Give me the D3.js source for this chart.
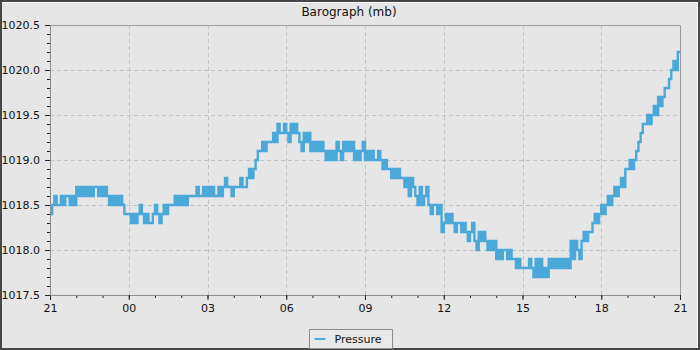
<!DOCTYPE html>
<html>
<head>
<meta charset="utf-8">
<script src="https://cdn.jsdelivr.net/npm/d3@7"></script>
<style>
  body { margin: 0; }
  svg { display: block; font-family: "DejaVu Sans", sans-serif; }
</style>
</head>
<body>
<div id="chart"></div>
<script>
const chartTitle = 'Barograph (mb)';
const seriesName = 'Pressure';
const startTime = new Date('2000-01-01T21:00:00Z');
const endTime = new Date('2000-01-02T21:00:00Z');
const sampleMinutes = 5;
const yDomain = [1017.5, 1020.5];

// one reading every 5 minutes, one row per hour starting 21:00
const pressure = [
    1018.4, 1018.5, 1018.6, 1018.5, 1018.5, 1018.6, 1018.5, 1018.6, 1018.6, 1018.5, 1018.6, 1018.5,
    1018.7, 1018.6, 1018.7, 1018.6, 1018.7, 1018.6, 1018.7, 1018.6, 1018.7, 1018.7, 1018.6, 1018.7,
    1018.6, 1018.7, 1018.6, 1018.5, 1018.6, 1018.5, 1018.6, 1018.5, 1018.6, 1018.5, 1018.4, 1018.4,
    1018.4, 1018.3, 1018.4, 1018.3, 1018.4, 1018.5, 1018.4, 1018.3, 1018.4, 1018.3, 1018.3, 1018.4,
    1018.5, 1018.4, 1018.3, 1018.4, 1018.5, 1018.4, 1018.5, 1018.5, 1018.5, 1018.6, 1018.5, 1018.6,
    1018.5, 1018.6, 1018.5, 1018.6, 1018.6, 1018.6, 1018.6, 1018.7, 1018.6, 1018.6, 1018.7, 1018.6,
    1018.7, 1018.6, 1018.7, 1018.6, 1018.6, 1018.7, 1018.6, 1018.7, 1018.8, 1018.7, 1018.7, 1018.6,
    1018.7, 1018.7, 1018.7, 1018.8, 1018.7, 1018.7, 1018.8, 1018.9, 1018.8, 1018.9, 1019.0, 1019.1,
    1019.1, 1019.2, 1019.1, 1019.2, 1019.2, 1019.2, 1019.3, 1019.2, 1019.4, 1019.3, 1019.3, 1019.4,
    1019.3, 1019.2, 1019.4, 1019.3, 1019.4, 1019.3, 1019.2, 1019.1, 1019.3, 1019.2, 1019.3, 1019.1,
    1019.2, 1019.1, 1019.2, 1019.1, 1019.2, 1019.1, 1019.0, 1019.1, 1019.0, 1019.1, 1019.0, 1019.2,
    1019.1, 1019.0, 1019.2, 1019.1, 1019.2, 1019.1, 1019.2, 1019.0, 1019.1, 1019.0, 1019.1, 1019.2,
    1019.0, 1019.1, 1019.0, 1019.1, 1019.0, 1019.0, 1019.1, 1019.0, 1018.9, 1019.0, 1018.9, 1018.9,
    1018.8, 1018.9, 1018.8, 1018.9, 1018.8, 1018.8, 1018.7, 1018.8, 1018.6, 1018.8, 1018.7, 1018.6,
    1018.5, 1018.7, 1018.5, 1018.6, 1018.7, 1018.5, 1018.4, 1018.5, 1018.5, 1018.4, 1018.5, 1018.2,
    1018.3, 1018.4, 1018.3, 1018.4, 1018.3, 1018.2, 1018.3, 1018.3, 1018.2, 1018.3, 1018.2, 1018.1,
    1018.2, 1018.3, 1018.1, 1018.0, 1018.2, 1018.1, 1018.2, 1018.1, 1018.0, 1018.1, 1018.0, 1018.1,
    1017.9, 1018.0, 1017.9, 1018.0, 1018.0, 1017.9, 1018.0, 1017.9, 1017.9, 1017.8, 1017.9, 1017.8,
    1017.8, 1017.8, 1017.8, 1017.9, 1017.8, 1017.7, 1017.9, 1017.7, 1017.9, 1017.7, 1017.8, 1017.7,
    1017.9, 1017.8, 1017.9, 1017.8, 1017.9, 1017.8, 1017.9, 1017.8, 1017.9, 1017.8, 1018.1, 1017.9,
    1018.1, 1018.0, 1017.9, 1018.1, 1018.2, 1018.1, 1018.2, 1018.2, 1018.3, 1018.4, 1018.3, 1018.4,
    1018.5, 1018.4, 1018.5, 1018.6, 1018.5, 1018.6, 1018.7, 1018.6, 1018.7, 1018.8, 1018.7, 1018.9,
    1018.9, 1019.0, 1018.9, 1019.0, 1019.1, 1019.2, 1019.3, 1019.4, 1019.4, 1019.5, 1019.4, 1019.5,
    1019.6, 1019.5, 1019.7, 1019.6, 1019.7, 1019.8, 1019.8, 1019.9, 1020.0, 1020.1, 1020.0, 1020.2,
    1020.2
];

const width = 700, height = 350;
const margin = { top: 25, right: 20, bottom: 55, left: 50 };
const lineColor = '#4aa9d9';

const svg = d3.select('#chart').append('svg')
    .attr('width', width)
    .attr('height', height);

// frame
svg.append('rect').attr('width', width).attr('height', height).attr('fill', '#474747');
svg.append('rect').attr('x', 2).attr('y', 2).attr('width', width - 4).attr('height', height - 4).attr('fill', '#ffffff');
svg.append('rect').attr('x', 2).attr('y', 3).attr('width', width - 5).attr('height', height - 5).attr('fill', '#e6e6e6');

const x = d3.scaleUtc()
    .domain([startTime, endTime])
    .range([margin.left, width - margin.right]);

const y = d3.scaleLinear()
    .domain(yDomain)
    .range([height - margin.bottom, margin.top]);

const data = pressure.map((v, i) => ({
    time: d3.utcMinute.offset(startTime, i * sampleMinutes),
    value: v
}));

const majorX = x.ticks(d3.utcHour.every(3));
const minorX = x.ticks(d3.utcHour.every(1));
const majorY = y.ticks(6);
const minorY = y.ticks(30);

// grid
const grid = svg.append('g')
    .attr('stroke', '#c2c2c2')
    .attr('stroke-width', 1)
    .attr('stroke-dasharray', '4,3');

grid.selectAll('.gx')
    .data(majorX.slice(1, -1))
    .enter().append('line')
    .attr('x1', d => Math.round(x(d)) + 0.5)
    .attr('x2', d => Math.round(x(d)) + 0.5)
    .attr('y1', margin.top)
    .attr('y2', height - margin.bottom);

grid.selectAll('.gy')
    .data(majorY.slice(1, -1))
    .enter().append('line')
    .attr('x1', margin.left)
    .attr('x2', width - margin.right)
    .attr('y1', d => Math.round(y(d)) + 0.5)
    .attr('y2', d => Math.round(y(d)) + 0.5);

// plot border top / right
svg.append('path')
    .attr('d', `M${margin.left},${margin.top + 0.5}H${width - margin.right + 0.5}V${height - margin.bottom}`)
    .attr('fill', 'none')
    .attr('stroke', '#999');

// series
const line = d3.line()
    .x(d => x(d.time))
    .y(d => y(d.value))
    .curve(d3.curveStepAfter);

svg.append('path')
    .datum(data)
    .attr('fill', 'none')
    .attr('stroke', lineColor)
    .attr('stroke-width', 2.4)
    .attr('d', line);

// axes
function styleAxis(g) {
    g.select('.domain').attr('stroke', '#8c8c8c');
    g.selectAll('.tick line').attr('stroke', '#222');
    g.selectAll('.tick text').attr('fill', '#111').style('font-size', '11px')
        .style('font-family', '"DejaVu Sans", sans-serif');
}

svg.append('g')
    .attr('transform', `translate(0,${height - margin.bottom})`)
    .call(d3.axisBottom(x).tickValues(minorX).tickSize(3).tickFormat('').tickSizeOuter(0))
    .call(styleAxis);

svg.append('g')
    .attr('transform', `translate(0,${height - margin.bottom})`)
    .call(d3.axisBottom(x).tickValues(majorX).tickSize(5).tickPadding(4)
        .tickFormat(d3.utcFormat('%H')).tickSizeOuter(0))
    .call(styleAxis);

svg.append('g')
    .attr('transform', `translate(${margin.left},0)`)
    .call(d3.axisLeft(y).tickValues(minorY).tickSize(3).tickFormat('').tickSizeOuter(0))
    .call(styleAxis);

svg.append('g')
    .attr('transform', `translate(${margin.left},0)`)
    .call(d3.axisLeft(y).tickValues(majorY).tickSize(5).tickPadding(5)
        .tickFormat(d3.format('.1f')).tickSizeOuter(0))
    .call(styleAxis);

// title
svg.append('text')
    .attr('x', 349)
    .attr('y', 16)
    .attr('text-anchor', 'middle')
    .attr('fill', '#111')
    .style('font-size', '12px')
    .text(chartTitle);

// legend
const legend = svg.append('g').attr('transform', 'translate(309.5,329.5)');
legend.append('rect')
    .attr('width', 83)
    .attr('height', 19)
    .attr('fill', '#e9e9e9')
    .attr('stroke', '#8c8c8c');
legend.append('line')
    .attr('x1', 5).attr('x2', 16)
    .attr('y1', 9.5).attr('y2', 9.5)
    .attr('stroke', lineColor)
    .attr('stroke-width', 2);
legend.append('text')
    .attr('x', 25)
    .attr('y', 13)
    .attr('fill', '#111')
    .style('font-size', '11px')
    .text(seriesName);
</script>
</body>
</html>
